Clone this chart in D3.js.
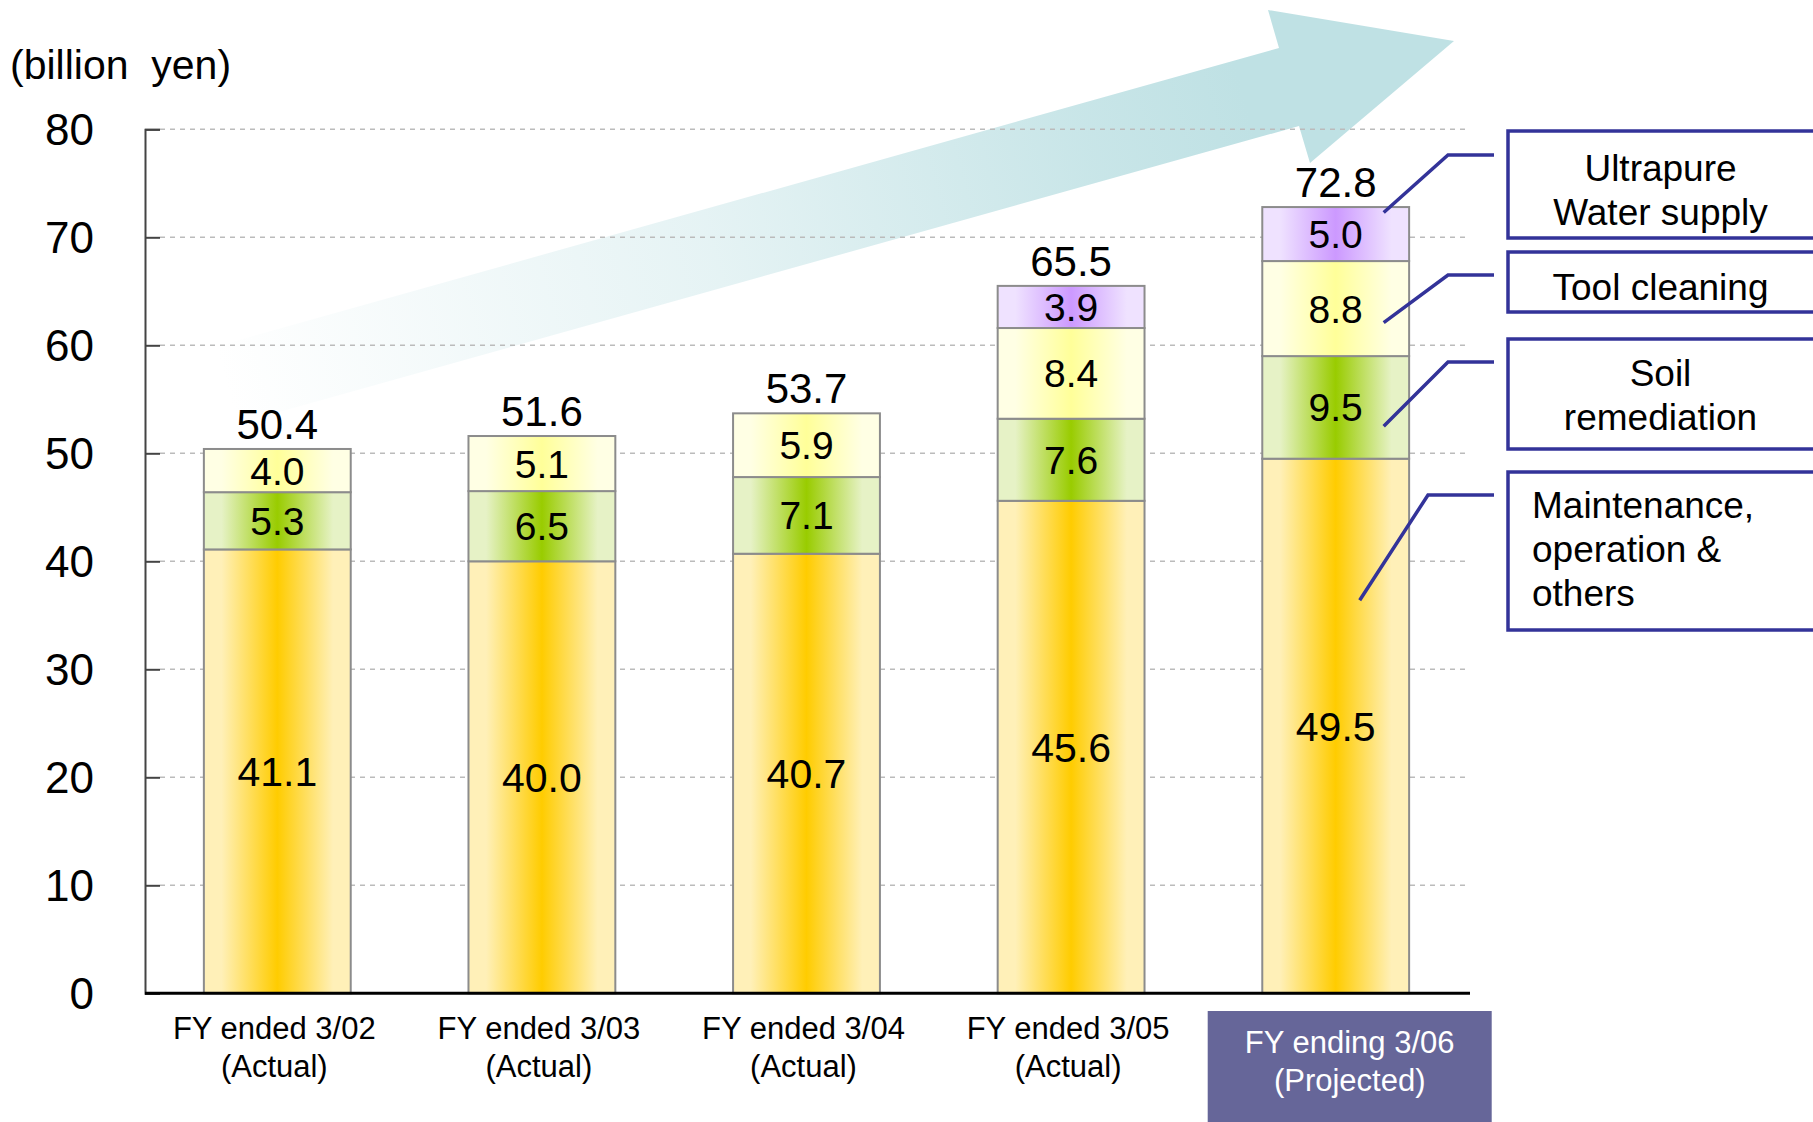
<!DOCTYPE html>
<html>
<head>
<meta charset="utf-8">
<script src="https://cdn.jsdelivr.net/npm/d3@7"></script>
<style>
  html, body { margin: 0; padding: 0; background: #fff; }
  svg { display: block; font-family: "Liberation Sans", Arial, sans-serif; }
</style>
</head>
<body>
<svg width="1813" height="1122"></svg>
<script>
// data (billion yen)
const categories = ["FY ended 3/02", "FY ended 3/03", "FY ended 3/04", "FY ended 3/05", "FY ending 3/06"]
const categoryNotes = ["(Actual)", "(Actual)", "(Actual)", "(Actual)", "(Projected)"]
const maintenance = [41.1, 40.0, 40.7, 45.6, 49.5]
const soil = [5.3, 6.5, 7.1, 7.6, 9.5]
const toolCleaning = [4.0, 5.1, 5.9, 8.4, 8.8]
const ultrapure = [0, 0, 0, 3.9, 5.0]
const totals = [50.4, 51.6, 53.7, 65.5, 72.8]
const yTicks = [0, 10, 20, 30, 40, 50, 60, 70, 80]
const seriesKeys = ["maintenance", "soil", "tool", "ultrapure"]
const legendLines = [
  ["Ultrapure", "Water supply"],
  ["Tool cleaning"],
  ["Soil", "remediation"],
  ["Maintenance,", "operation &", "others"]
]

const svg = d3.select("svg")
const width = +svg.attr("width")

const plotLeft = 145, plotRight = 1468, plotTop = 129.3, plotBottom = 993.3

const x = d3.scaleBand()
  .domain(categories)
  .range([plotLeft, plotRight])
  .paddingInner(0.445)
  .paddingOuter(0.2225)

const y = d3.scaleLinear().domain([0, 80]).range([plotBottom, plotTop])

const rows = categories.map((c, i) => ({
  cat: c,
  maintenance: maintenance[i],
  soil: soil[i],
  tool: toolCleaning[i],
  ultrapure: ultrapure[i]
}))
const stacked = d3.stack().keys(seriesKeys)(rows)

const colors = {
  maintenance: ["#fff0b8", "#ffcc00"],
  soil: ["#e6f2c6", "#99cc00"],
  tool: ["#ffffe4", "#ffff99"],
  ultrapure: ["#efe2ff", "#cc99ff"]
}

const defs = svg.append("defs")
seriesKeys.forEach((k) => {
  const g = defs.append("linearGradient").attr("id", "grad-" + k)
    .attr("x1", "0%").attr("x2", "100%").attr("y1", "0%").attr("y2", "0%")
  const [light, strong] = colors[k]
  ;[[0, light], [0.12, light], [0.5, strong], [0.88, light], [1, light]].forEach(([o, c]) => {
    g.append("stop").attr("offset", o * 100 + "%").attr("stop-color", c)
  })
})

// the big growth arrow behind the chart
const arrowGrad = defs.append("linearGradient").attr("id", "arrow-grad")
  .attr("gradientUnits", "userSpaceOnUse")
  .attr("x1", 225).attr("y1", 385).attr("x2", 1300).attr("y2", 88)
arrowGrad.append("stop").attr("offset", "0%").attr("stop-color", "#bfe1e4").attr("stop-opacity", 0)
arrowGrad.append("stop").attr("offset", "45%").attr("stop-color", "#bfe1e4").attr("stop-opacity", 0.4)
arrowGrad.append("stop").attr("offset", "80%").attr("stop-color", "#bfe1e4").attr("stop-opacity", 0.85)
arrowGrad.append("stop").attr("offset", "95%").attr("stop-color", "#bfe1e4").attr("stop-opacity", 1)

const arrowPts = [[214, 347], [1279, 48], [1268, 10], [1454, 41], [1310, 163], [1299, 126], [236, 424]]
svg.append("path")
  .attr("d", d3.line()(arrowPts) + "Z")
  .attr("fill", "url(#arrow-grad)")

// gridlines
svg.append("g")
  .selectAll("line")
  .data(yTicks.filter((d) => d > 0))
  .join("line")
  .attr("x1", plotLeft + 15).attr("x2", plotRight)
  .attr("y1", (d) => y(d)).attr("y2", (d) => y(d))
  .attr("stroke", "#bbbbbb")
  .attr("stroke-width", 1.6)
  .attr("stroke-dasharray", "5,5")

// y axis
const yAxis = svg.append("g")
  .attr("transform", "translate(" + plotLeft + ",0)")
  .call(d3.axisRight(y).tickValues(yTicks).tickSize(15).tickFormat(""))
yAxis.select(".domain").attr("stroke", "#444").attr("stroke-width", 2)
yAxis.selectAll(".tick line").attr("stroke", "#444").attr("stroke-width", 2)

svg.append("g")
  .selectAll("text")
  .data(yTicks)
  .join("text")
  .attr("x", 94)
  .attr("y", (d) => y(d))
  .attr("dy", "0.36em")
  .attr("text-anchor", "end")
  .attr("font-size", 44)
  .attr("fill", "#000")
  .text((d) => d)

svg.append("text")
  .attr("x", 10).attr("y", 79)
  .attr("font-size", 41)
  .style("white-space", "pre")
  .text("(billion  yen)")

// bars
const barG = svg.append("g")
stacked.forEach((layer) => {
  const key = layer.key
  const seg = barG.append("g")
  seg.selectAll("rect")
    .data(layer.filter((d) => d[1] - d[0] > 0))
    .join("rect")
    .attr("x", (d) => x(d.data.cat))
    .attr("width", x.bandwidth())
    .attr("y", (d) => y(d[1]))
    .attr("height", (d) => y(d[0]) - y(d[1]))
    .attr("fill", "url(#grad-" + key + ")")
    .attr("stroke", "#8c8c8c")
    .attr("stroke-width", 2)
  seg.selectAll("text")
    .data(layer.filter((d) => d[1] - d[0] > 0))
    .join("text")
    .attr("x", (d) => x(d.data.cat) + x.bandwidth() / 2)
    .attr("y", (d) => y((d[0] + d[1]) / 2))
    .attr("dy", "0.36em")
    .attr("text-anchor", "middle")
    .attr("font-size", key === "maintenance" ? 41 : 39)
    .text((d) => (d[1] - d[0]).toFixed(1))
})

// totals
svg.append("g")
  .selectAll("text")
  .data(totals)
  .join("text")
  .attr("x", (d, i) => x(categories[i]) + x.bandwidth() / 2)
  .attr("y", (d) => y(d) - 10)
  .attr("text-anchor", "middle")
  .attr("font-size", 42)
  .text((d) => d.toFixed(1))

// x axis baseline
svg.append("line")
  .attr("x1", plotLeft).attr("x2", plotRight + 2)
  .attr("y1", plotBottom).attr("y2", plotBottom)
  .attr("stroke", "#000").attr("stroke-width", 3)

// category labels
const last = categories.length - 1
svg.append("rect")
  .attr("x", x(categories[last]) + x.bandwidth() / 2 - 128)
  .attr("y", 1011)
  .attr("width", 284)
  .attr("height", 120)
  .attr("fill", "#666699")

const catG = svg.append("g")
  .selectAll("text")
  .data(categories)
  .join("text")
  .attr("text-anchor", "middle")
  .attr("font-size", 31)
  .attr("fill", (d, i) => (i === last ? "#fff" : "#000"))
catG.append("tspan")
  .attr("x", (d, i) => x(d) + x.bandwidth() / 2 + (i === last ? 14 : -3))
  .attr("y", (d, i) => (i === last ? 1053 : 1039))
  .text((d) => d)
catG.append("tspan")
  .attr("x", (d, i) => x(d) + x.bandwidth() / 2 + (i === last ? 14 : -3))
  .attr("dy", 38)
  .text((d, i) => categoryNotes[i])

// legend call-out boxes on the right
const boxLeft = 1508
const boxes = [
  { y0: 131, y1: 238, lineY: 155, endX: 48, endV: 72.3, turnX: 1448, anchor: "middle", base: 181, step: 44 },
  { y0: 252, y1: 312, lineY: 275, endX: 48, endV: 62.1, turnX: 1448, anchor: "middle", base: 300, step: 44 },
  { y0: 339, y1: 449, lineY: 362, endX: 48, endV: 52.5, turnX: 1448, anchor: "middle", base: 386, step: 44 },
  { y0: 472, y1: 630, lineY: 495, endX: 24, endV: 36.4, turnX: 1428, anchor: "start", base: 518, step: 44 }
]
const barMid = x(categories[last]) + x.bandwidth() / 2
const legG = svg.append("g")
boxes.forEach((b, i) => {
  legG.append("rect")
    .attr("x", boxLeft).attr("y", b.y0)
    .attr("width", width - boxLeft + 20).attr("height", b.y1 - b.y0)
    .attr("fill", "#fff")
    .attr("stroke", "#333399").attr("stroke-width", 3.5)
  legG.append("path")
    .attr("d", d3.line()([[1494, b.lineY], [b.turnX, b.lineY], [barMid + b.endX, y(b.endV)]]))
    .attr("fill", "none")
    .attr("stroke", "#333399").attr("stroke-width", 3.5)
  const t = legG.append("text")
    .attr("text-anchor", b.anchor)
    .attr("font-size", 37)
  legendLines[i].forEach((line, j) => {
    t.append("tspan")
      .attr("x", b.anchor === "middle" ? (boxLeft + width) / 2 : 1532)
      .attr("y", b.base + j * b.step)
      .text(line)
  })
})
</script>
</body>
</html>
